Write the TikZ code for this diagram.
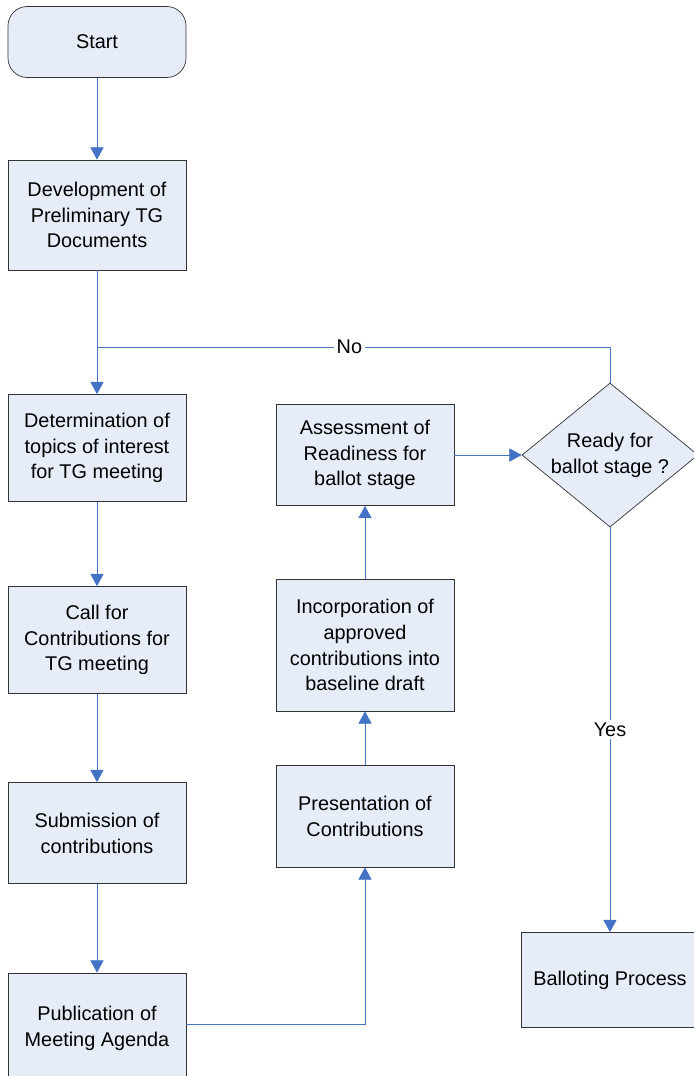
\documentclass[tikz,border=0pt]{standalone}
\usepackage{fontspec}
\setmainfont{Liberation Sans}
\usetikzlibrary{shapes.geometric,arrows.meta}
\definecolor{boxfill}{RGB}{230,236,248}
\definecolor{flowblue}{RGB}{68,114,196}

\begin{document}
\begin{tikzpicture}[x=0.2mm,y=-0.2mm,
        font=\fontsize{11.3}{14.7}\selectfont,
        box/.style={draw=black!80,fill=boxfill,align=center,inner sep=0pt,
          minimum width=35.6mm,minimum height=21.4mm},
        startbox/.style={box,rounded corners=11pt,minimum height=14.2mm},
        choice/.style={diamond,aspect=1.22,draw=black!80,fill=boxfill,align=center,inner sep=0pt,
          minimum width=35.2mm,minimum height=28.8mm},
        flow/.style={draw=flowblue,-{Triangle[length=7pt,width=7.5pt]}},
        tag/.style={fill=white,inner sep=1.5pt}]
        \clip (0,0) rectangle (694,1076);
        % left column
        \node[startbox] (start) at (97,42) {Start};
        \node[box,minimum height=22mm] (dev) at (97,215) {Development of\\Preliminary TG\\Documents};
        \node[box] (topics) at (97,448) {Determination of\\topics of interest\\for TG meeting};
        \node[box] (call) at (97,640) {Call for\\Contributions for\\TG meeting};
        \node[box,minimum height=20.2mm] (submit) at (97,833) {Submission of\\contributions};
        \node[box,minimum height=22mm] (agenda) at (97,1028) {Publication of\\Meeting Agenda};
        % middle column
        \node[box,minimum height=20.4mm] (present) at (365,816) {Presentation of\\Contributions};
        \node[box,minimum height=26.4mm] (merge) at (365,645) {Incorporation of\\approved\\contributions into\\baseline draft};
        \node[box,minimum height=20.2mm] (assess) at (365,455) {Assessment of\\Readiness for\\ballot stage};
        % right column
        \node[choice] (ready) at (610,455) {Ready for\\ballot stage ?};
        \node[box,minimum width=35.4mm,minimum height=19mm] (ballot) at (610,980) {Balloting Process};
        \coordinate (join) at (97,347);
        \draw[flow] (start) -- (dev);
        \draw[flow] (dev) -- (topics);
        \draw[flow] (topics) -- (call);
        \draw[flow] (call) -- (submit);
        \draw[flow] (submit) -- (agenda);
        \draw[flow] (agenda.east |- 0,1024) -| (present);
        \draw[flow] (present) -- (merge);
        \draw[flow] (merge) -- (assess);
        \draw[flow] (assess) -- (ready);
        \draw[flow] (ready) -- node[tag] {Yes} (ballot);
        \draw[draw=flowblue] (ready.north) |- node[tag,pos=0.754] {No} (join);
      \end{tikzpicture}
\end{document}
